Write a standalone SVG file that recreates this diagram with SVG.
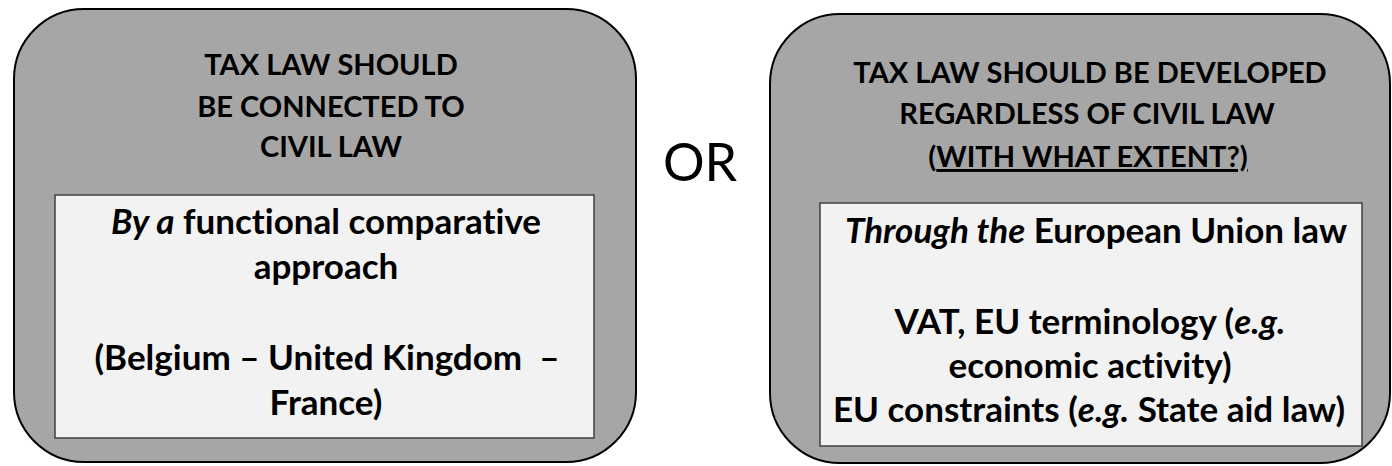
<svg xmlns="http://www.w3.org/2000/svg" width="1392" height="466" viewBox="0 0 1392 466">
  <style>
    .outer { fill: #a6a6a6; stroke: #000000; stroke-width: 2; }
    .inner { fill: #f2f2f2; stroke: #404040; stroke-width: 1.5; }
    text { font-variant-ligatures: none; }
    .title { font-family: Lato, "Liberation Sans", sans-serif; font-weight: bold; font-size: 29px; fill: #000000; text-anchor: middle; }
    .body { font-family: Lato, "Liberation Sans", sans-serif; font-weight: bold; font-size: 35px; fill: #000000; text-anchor: middle; }
    .or { font-family: Lato, "Liberation Sans", sans-serif; font-weight: normal; font-size: 52px; fill: #000000; text-anchor: middle; }
    .it { font-style: italic; }
    .ul { text-decoration: underline; }
  </style>
  <g id="connectors"></g>
  <g id="left-node">
    <rect class="outer" x="14" y="9" width="622" height="453" rx="70" ry="70"/>
    <text class="title" x="331" y="75">TAX LAW SHOULD</text>
    <text class="title" x="331" y="117">BE CONNECTED TO</text>
    <text class="title" x="331" y="157">CIVIL LAW</text>
    <rect class="inner" x="55" y="195" width="539" height="243"/>
    <text class="body" x="326" y="234"><tspan class="it">By a</tspan> functional comparative</text>
    <text class="body" x="326" y="279">approach</text>
    <text class="body" x="327" y="370" xml:space="preserve">(Belgium – United Kingdom  –</text>
    <text class="body" x="326" y="415">France)</text>
  </g>
  <g id="or-label">
    <text class="or" x="700" y="181">OR</text>
  </g>
  <g id="right-node">
    <rect class="outer" x="770" y="14" width="620" height="449" rx="70" ry="70"/>
    <text class="title" x="1090" y="83">TAX LAW SHOULD BE DEVELOPED</text>
    <text class="title" x="1087" y="124">REGARDLESS OF CIVIL LAW</text>
    <text class="title" x="1088" y="167">(<tspan class="ul">WITH WHAT EXTENT?)</tspan></text>
    <rect class="inner" x="820" y="203" width="542" height="243"/>
    <text class="body" x="1096" y="243"><tspan class="it">Through the</tspan> European Union law</text>
    <text class="body" x="1090" y="334">VAT, EU terminology (<tspan class="it">e.g.</tspan></text>
    <text class="body" x="1090" y="378">economic activity)</text>
    <text class="body" x="1089" y="422">EU constraints (<tspan class="it">e.g.</tspan> State aid law)</text>
  </g>
</svg>
